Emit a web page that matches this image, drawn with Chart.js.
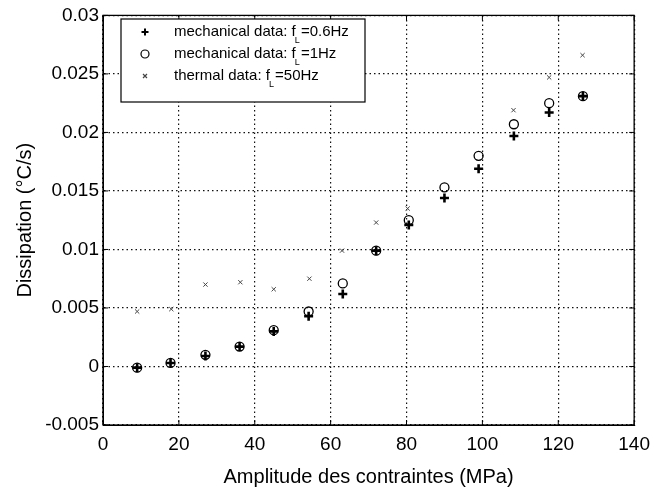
<!DOCTYPE html>
<html>
<head>
<meta charset="utf-8">
<script src="https://cdn.jsdelivr.net/npm/chart.js@4/dist/chart.umd.min.js"></script>
<style>
  html, body { margin: 0; padding: 0; background: #fff; }
  #wrap { width: 658px; height: 490px; }
</style>
</head>
<body>
<div id="wrap"><canvas id="scatterChart"></canvas></div>
<script>
// data
const stressMech = [9, 17.8, 27, 36, 45, 54.2, 63.2, 72, 80.6, 90, 99, 108.3, 117.6, 126.5];
const mech06Hz = [-0.0001, 0.0003, 0.0009, 0.0017, 0.003, 0.0043, 0.0062, 0.0099, 0.0121, 0.0144, 0.0169, 0.0197, 0.0217, 0.0231];
const mech1Hz = [-0.0001, 0.0003, 0.001, 0.0017, 0.0031, 0.0047, 0.0071, 0.0099, 0.0125, 0.0153, 0.018, 0.0207, 0.0225, 0.0231];
const stressThermal = [9, 18, 27, 36.2, 45, 54.4, 63, 72, 80.3, 108.2, 117.6, 126.4];
const thermal50Hz = [0.0047, 0.0049, 0.007, 0.0072, 0.0066, 0.0075, 0.0099, 0.0123, 0.0135, 0.0219, 0.0247, 0.0266];

const xTicks = [0, 20, 40, 60, 80, 100, 120, 140];
const yTicks = [-0.005, 0, 0.005, 0.01, 0.015, 0.02, 0.025, 0.03];
const yTickLabels = ['-0.005', '0', '0.005', '0.01', '0.015', '0.02', '0.025', '0.03'];

// legend text: before subscript, subscript, after
const legendLabels = [
  ['mechanical data: f', 'L', ' =0.6Hz'],
  ['mechanical data: f', 'L', ' =1Hz'],
  ['thermal data: f', 'L', ' =50Hz']
];

const FONT = '"Liberation Sans", Arial, sans-serif';

function toPoints(xs, ys) {
  return xs.map((x, i) => ({ x, y: ys[i] }));
}

const datasets = [
  {
    label: legendLabels[0].join(''),
    data: toPoints(stressMech, mech06Hz),
    pointStyle: 'cross',
    pointRadius: 4.5,
    borderColor: '#000',
    pointBorderWidth: 2.6,
    backgroundColor: '#000'
  },
  {
    label: legendLabels[1].join(''),
    data: toPoints(stressMech, mech1Hz),
    pointStyle: 'circle',
    pointRadius: 4.5,
    borderColor: '#000',
    pointBorderWidth: 1.3,
    backgroundColor: 'rgba(0,0,0,0)'
  },
  {
    label: legendLabels[2].join(''),
    data: toPoints(stressThermal, thermal50Hz),
    pointStyle: 'crossRot',
    pointRadius: 3,
    borderColor: '#444',
    pointBorderWidth: 1,
    backgroundColor: '#444'
  }
];

// box round the plot, inner tick marks, and the legend box
const frameLegend = {
  id: 'frameLegend',
  afterDraw(chart) {
    const { ctx, chartArea: a, scales } = chart;
    ctx.save();
    ctx.strokeStyle = '#000';
    ctx.lineWidth = 1.3;
    ctx.setLineDash([]);
    ctx.strokeRect(a.left, a.top, a.right - a.left, a.bottom - a.top);

    ctx.lineWidth = 1;
    ctx.beginPath();
    xTicks.forEach(v => {
      const px = scales.x.getPixelForValue(v);
      ctx.moveTo(px, a.bottom); ctx.lineTo(px, a.bottom - 5);
      ctx.moveTo(px, a.top); ctx.lineTo(px, a.top + 5);
    });
    yTicks.forEach(v => {
      const py = scales.y.getPixelForValue(v);
      ctx.moveTo(a.left, py); ctx.lineTo(a.left + 5, py);
      ctx.moveTo(a.right, py); ctx.lineTo(a.right - 5, py);
    });
    ctx.stroke();

    // legend
    const lx = 121, ly = 19, lw = 244, lh = 83;
    ctx.fillStyle = '#fff';
    ctx.fillRect(lx, ly, lw, lh);
    ctx.strokeStyle = '#000';
    ctx.lineWidth = 1.2;
    ctx.strokeRect(lx, ly, lw, lh);

    const rows = [32, 54, 76];
    chart.data.datasets.forEach((ds, i) => {
      const y = rows[i];
      const mx = 145;
      ctx.strokeStyle = ds.borderColor;
      ctx.lineWidth = i === 0 ? 2 : 1.2;
      ctx.beginPath();
      if (ds.pointStyle === 'cross') {
        ctx.moveTo(mx - 3.5, y); ctx.lineTo(mx + 3.5, y);
        ctx.moveTo(mx, y - 3.5); ctx.lineTo(mx, y + 3.5);
      } else if (ds.pointStyle === 'circle') {
        ctx.arc(mx, y, 4, 0, Math.PI * 2);
      } else {
        ctx.moveTo(mx - 2, y - 2); ctx.lineTo(mx + 2, y + 2);
        ctx.moveTo(mx + 2, y - 2); ctx.lineTo(mx - 2, y + 2);
      }
      ctx.stroke();

      const [pre, sub, post] = legendLabels[i];
      ctx.fillStyle = '#000';
      ctx.textBaseline = 'middle';
      ctx.textAlign = 'left';
      ctx.font = '15px ' + FONT;
      const tx = 174;
      ctx.fillText(pre, tx, y);
      const w = ctx.measureText(pre).width;
      ctx.font = '9px ' + FONT;
      ctx.fillText(sub, tx + w - 1, y + 9);
      ctx.font = '15px ' + FONT;
      ctx.fillText(post, tx + w + 1, y);
    });
    ctx.restore();
  }
};

const ctx = document.getElementById('scatterChart').getContext('2d');
new Chart(ctx, {
  type: 'scatter',
  data: { datasets },
  options: {
    responsive: true,
    maintainAspectRatio: false,
    animation: false,
    layout: { padding: { top: 14, right: 18, left: 0, bottom: 0 } },
    plugins: {
      legend: { display: false },
      tooltip: { enabled: false }
    },
    scales: {
      x: {
        type: 'linear',
        min: 0,
        max: 140,
        afterBuildTicks: s => { s.ticks = xTicks.map(v => ({ value: v })); },
        afterFit: s => { s.height = 65; },
        ticks: {
          color: '#000',
          font: { family: FONT, size: 19 },
          padding: 8,
          maxRotation: 0,
          autoSkip: false
        },
        grid: { color: '#111', lineWidth: 1.2, drawTicks: false },
        border: { display: true, color: '#000', dash: [1.5, 3] },
        title: {
          display: true,
          text: 'Amplitude des contraintes (MPa)',
          color: '#000',
          font: { family: FONT, size: 20 },
          padding: { top: 0, bottom: 1 }
        }
      },
      y: {
        type: 'linear',
        min: -0.005,
        max: 0.03,
        afterBuildTicks: s => { s.ticks = yTicks.map(v => ({ value: v })); },
        afterFit: s => { s.width = 103; },
        ticks: {
          color: '#000',
          font: { family: FONT, size: 19 },
          padding: 4,
          autoSkip: false,
          callback: (v, i) => yTickLabels[i]
        },
        grid: { color: '#111', lineWidth: 1.2, drawTicks: false },
        border: { display: true, color: '#000', dash: [1.5, 3] },
        title: {
          display: true,
          text: 'Dissipation (°C/s)',
          color: '#000',
          font: { family: FONT, size: 20 },
          padding: { top: 13, bottom: 0 }
        }
      }
    }
  },
  plugins: [frameLegend]
});
</script>
</body>
</html>
